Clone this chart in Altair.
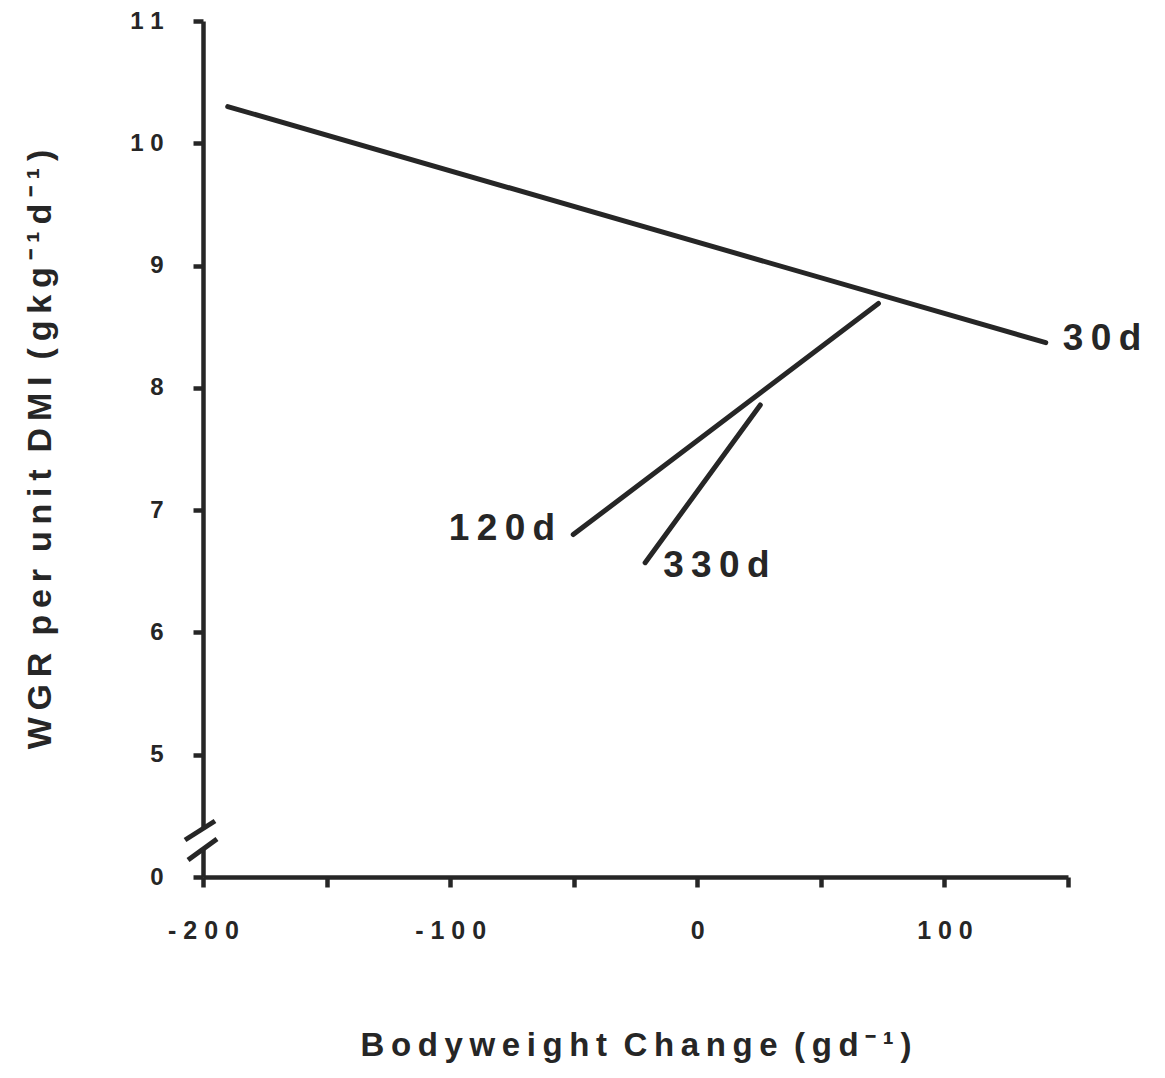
import altair as alt
import pandas as pd

# Regression lines of WGR per unit DMI against bodyweight change, by age
series = ["30d", "120d", "330d"]
x_start = [-190.0, -50.2, -21.1]
x_end = [141.0, 73.3, 25.5]
y_start = [10.30, 6.80, 6.57]
y_end = [8.37, 8.69, 7.86]

x_ticks = [-200, -150, -100, -50, 0, 50, 100, 150]
y_ticks = [4, 5, 6, 7, 8, 9, 10, 11]   # 4 is shown as "0" below the axis break

INK = "#262626"
FONT = "Liberation Sans"
THIN = "\u2009"
WORD = "\u2002"


def spaced(text):
    """Letter-space a phrase: thin spaces between letters, en spaces between words."""
    return WORD.join(THIN.join(word) for word in text.split(" "))


rows = []
for name, xs, xe, ys, ye in zip(series, x_start, x_end, y_start, y_end):
    rows.append({"series": name, "x": xs, "y": ys})
    rows.append({"series": name, "x": xe, "y": ye})
lines_df = pd.DataFrame(rows)

label_df = pd.DataFrame({
    "series": series,
    "x": [x_end[0], x_start[1], x_start[2]],
    "y": [y_end[0], y_start[1], y_start[2]],
    "text": [spaced(s) for s in series],
})

x_scale = alt.Scale(domain=[-200, 150], nice=False, zero=False)
y_scale = alt.Scale(domain=[4, 11], nice=False, zero=False)

x_axis = alt.Axis(
    values=x_ticks,
    labelExpr="datum.value % 100 == 0 ? join(split(toString(datum.value), ''), ' ') : ''",
    labelFlush=False,
    title=spaced("Bodyweight Change (gd⁻¹)"),
    titleY=168, titleBaseline="middle", titleFontSize=33,
    labelPadding=31, labelFontSize=25,
)
y_axis = alt.Axis(
    values=y_ticks,
    labelExpr="datum.value == 4 ? '0' : join(split(toString(datum.value), ''), ' ')",
    labelFlush=False,
    title=spaced("WGR per unit DMI (gkg⁻¹d⁻¹)"),
    titleX=-163, titleBaseline="middle", titleAngle=270, titleFontSize=34,
    labelPadding=30, labelFontSize=24, labelBaseline="middle",
)

base = alt.Chart(lines_df)

lines = base.mark_line(color=INK, strokeWidth=5, strokeCap="round").encode(
    x=alt.X("x:Q", scale=x_scale, axis=x_axis),
    y=alt.Y("y:Q", scale=y_scale, axis=y_axis),
    detail="series:N",
)


def name_label(name, align, dx, dy):
    return alt.Chart(label_df).transform_filter(
        alt.datum.series == name
    ).mark_text(
        align=align, baseline="middle", dx=dx, dy=dy,
        font=FONT, fontSize=37, fontWeight="bold", color=INK,
    ).encode(x="x:Q", y="y:Q", text="text:N")


labels = (
    name_label("30d", "left", 17, -4)
    + name_label("120d", "right", -18, -6)
    + name_label("330d", "left", 18, 3)
)

blank = alt.Data(values=[{"k": 0}])

# gap in the y axis with the two break strokes across it
gap = alt.Chart(blank).mark_rule(color="white", strokeWidth=9).encode(
    x=alt.value(0), y=alt.value(808), y2=alt.value(827)
)
break_top = alt.Chart(blank).mark_rule(color=INK, strokeWidth=5).encode(
    x=alt.value(-18), y=alt.value(819), x2=alt.value(12), y2=alt.value(800)
)
break_bottom = alt.Chart(blank).mark_rule(color=INK, strokeWidth=5).encode(
    x=alt.value(-15), y=alt.value(839), x2=alt.value(14), y2=alt.value(818)
)

chart = alt.layer(lines, labels, gap, break_top, break_bottom).properties(
    width=865, height=856,
    autosize=alt.AutoSizeParams(type="none"),
    padding={"left": 203, "top": 21, "right": 97, "bottom": 201},
).configure(
    background="white",
).configure_view(
    stroke=None
).configure_axis(
    grid=False, zindex=0,
    domainColor=INK, domainWidth=4.5,
    tickColor=INK, tickWidth=4.5, tickSize=10,
    labelColor=INK, labelFont=FONT, labelFontWeight="bold",
    titleColor=INK, titleFont=FONT, titleFontWeight="bold",
)

chart.save("out.html", embed_options={"renderer": "svg", "actions": False})
